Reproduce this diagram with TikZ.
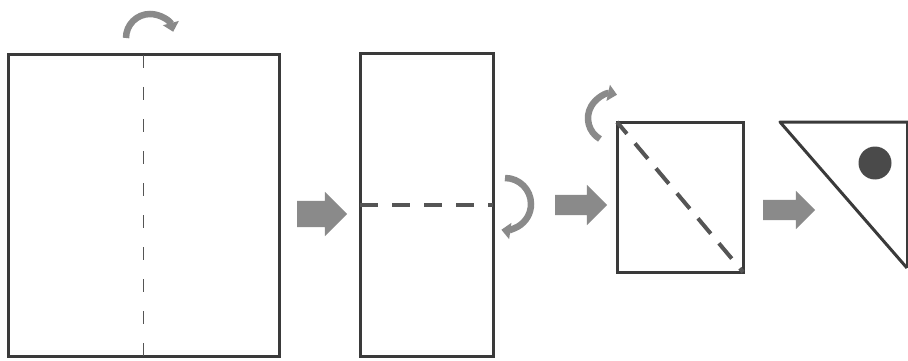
\documentclass[tikz,border=0pt]{standalone}
\usetikzlibrary{shapes.arrows,arrows.meta}
\definecolor{edge}{HTML}{3A3A3A}
\definecolor{fold}{HTML}{555555}
\definecolor{turn}{HTML}{8A8A8A}
\definecolor{dot}{HTML}{4A4A4A}
\begin{document}
\begin{tikzpicture}[x=1pt,y=-1pt,
  paper/.style={draw=edge,line width=3pt,rectangle,inner sep=0pt,outer sep=0pt},
  thinfold/.style={draw=fold,line width=1.8pt,dash pattern=on 13pt off 19pt},
  thickfold/.style={draw=fold,line width=4pt,dash pattern=on 18pt off 14pt},
  turnarrow/.style={draw=turn,line width=6.5pt,-{Triangle[length=9pt,width=16pt]}},
  fatarrow/.style={single arrow,fill=turn,draw=none,single arrow tip angle=90,outer sep=0pt,anchor=tail}]
\useasboundingbox (0,0) rectangle (908,361);
% step 1
\node[paper,minimum width=271pt,minimum height=301pt] (sq1) at (143.5,205.5) {};
\draw[thinfold] (sq1.north) -- (sq1.south);
\draw[turnarrow] (126,38) arc[start angle=180,end angle=345,radius=24];
% arrow
\node[fatarrow,minimum height=50pt,inner sep=13pt,single arrow head extend=9pt] (a1) at (297,214) {};
% step 2
\node[paper,minimum width=133pt,minimum height=302pt] (sq2) at (426.5,205) {};
\draw[thickfold] (sq2.west) -- (sq2.east);
\draw[turnarrow] (505,178) arc[start angle=-90,end angle=98,radius=26];
% arrow
\node[fatarrow,minimum height=52pt,inner sep=10pt,single arrow head extend=10pt] (a2) at (555,205) {};
% step 3
\node[paper,minimum width=126pt,minimum height=150pt] (sq3) at (680,197) {};
\draw[draw=fold,line width=4pt,dash pattern=on 20pt off 12.6pt,dash phase=4.6pt] (sq3.north west) -- (sq3.south east);
\draw[turnarrow] (600,139) arc[start angle=120,end angle=282,radius=24];
% arrow
\node[fatarrow,minimum height=52pt,inner sep=10pt,single arrow head extend=9pt] (a3) at (763,210) {};
% step 4
\coordinate (t1) at (780,122);
\coordinate (t2) at (910,122);
\coordinate (t3) at (907,268);
\draw[edge,line width=3pt,line join=round] (t2) -- (t1) -- (t3);
\draw[edge,line width=1.2pt] (907,122) -- (t3);
\node[circle,fill=dot,minimum size=33pt,inner sep=0pt] (hole) at (875,163) {};
\end{tikzpicture}
\end{document}
